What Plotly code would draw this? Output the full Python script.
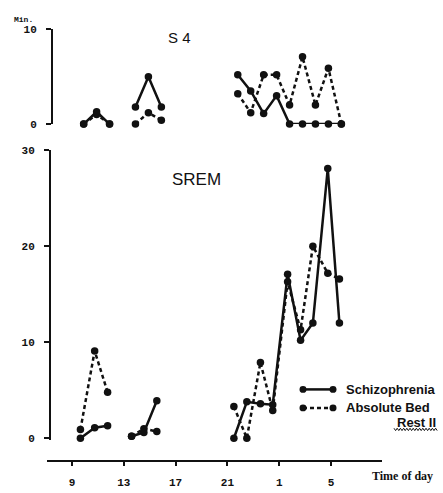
import plotly.graph_objects as go

W, H = 443, 493

# ---- data (hours of day; values after 24 continue as 25 = 1 h, 29 = 5 h) ----
top_hours = [9.9, 10.9, 11.9, None, 13.9, 14.9, 15.9, None,
             21.8, 22.8, 23.8, 24.8, 25.8, 26.8, 27.8, 28.8, 29.8]
top_schizo = [0, 1.3, 0, None, 1.8, 5.0, 1.8, None,
              5.2, 3.5, 1.1, 3.0, 0, 0, 0, 0, 0]
top_bedrest = [0, 1.0, 0, None, 0, 1.2, 0.4, None,
               3.2, 1.2, 5.2, 5.2, 2.0, 7.1, 2.0, 5.9, 0]

bottom_hours = [9.65, 10.75, 11.75, None, 13.6, 14.55, 15.55, None,
                21.5, 22.5, 23.55, 24.5, 25.65, 26.65, 27.6, 28.75, 29.65]
bottom_schizo = [0, 1.1, 1.3, None, 0.2, 0.6, 3.9, None,
                 0, 3.8, 3.6, 3.5, 17.1, 10.2, 12.0, 28.1, 12.0]
bottom_bedrest = [0.9, 9.1, 4.8, None, 0.2, 1.0, 0.7, None,
                  3.3, 0, 7.9, 2.9, 16.3, 11.3, 20.0, 17.2, 16.6]

x_tickvals = [9, 13, 17, 21, 25, 29]
x_ticktext = ["9", "13", "17", "21", "1", "5"]
top_ticks = [0, 10]
bottom_ticks = [0, 10, 20, 30]

series_names = ["Schizophrenia", "Absolute Bed Rest II"]


def px(x):
    return x / W


def py(y):
    return 1 - y / H


# x mapping: hour 9 -> 72 px, 12.95 px per hour
x0_px, x1_px = 47, 382
xr = [9 + (x0_px - 72) / 12.95, 9 + (x1_px - 72) / 12.95]

BLACK = "#111111"
mono = "Liberation Mono"
sans = "Liberation Sans"

fig = go.Figure()

common_marker = dict(size=7.5, color=BLACK)
solid = dict(color=BLACK, width=2.5)
dashed = dict(color=BLACK, width=2.5, dash="4px,3px")

fig.add_trace(go.Scatter(x=top_hours, y=top_bedrest, xaxis="x", yaxis="y2",
                         mode="lines+markers", line=dashed, marker=common_marker,
                         cliponaxis=False, connectgaps=False, name=series_names[1],
                         showlegend=False))
fig.add_trace(go.Scatter(x=top_hours, y=top_schizo, xaxis="x", yaxis="y2",
                         mode="lines+markers", line=solid, marker=common_marker,
                         cliponaxis=False, connectgaps=False, name=series_names[0],
                         showlegend=False))
fig.add_trace(go.Scatter(x=bottom_hours, y=bottom_bedrest, xaxis="x", yaxis="y",
                         mode="lines+markers", line=dashed, marker=common_marker,
                         cliponaxis=False, connectgaps=False, name=series_names[1],
                         showlegend=False))
fig.add_trace(go.Scatter(x=bottom_hours, y=bottom_schizo, xaxis="x", yaxis="y",
                         mode="lines+markers", line=solid, marker=common_marker,
                         cliponaxis=False, connectgaps=False, name=series_names[0],
                         showlegend=False))

tickfont = dict(family=mono, size=11, color=BLACK, weight="bold")

fig.update_layout(
    width=W, height=H,
    margin=dict(l=0, r=0, t=0, b=0),
    paper_bgcolor="white", plot_bgcolor="rgba(0,0,0,0)",
    xaxis=dict(domain=[px(x0_px), px(x1_px)], range=xr, anchor="free",
               position=py(467), showline=True, linewidth=2, linecolor=BLACK,
               ticks="outside", ticklen=4, tickwidth=1.5, tickcolor=BLACK,
               tickvals=x_tickvals, ticktext=x_ticktext, tickfont=tickfont,
               showgrid=False, zeroline=False, ticklabelstandoff=7),
    yaxis=dict(domain=[py(446), py(149)], range=[-0.2, 30], anchor="free",
               position=px(50), showline=True, linewidth=2, linecolor=BLACK,
               ticks="outside", ticklen=5, tickwidth=2, tickcolor=BLACK,
               tickvals=bottom_ticks, tickfont=tickfont, showgrid=False,
               zeroline=False, ticklabelstandoff=7),
    yaxis2=dict(domain=[py(122), py(25)], range=[0, 10], anchor="free",
                position=px(52), showline=True, linewidth=2, linecolor=BLACK,
                ticks="outside", ticklen=5, tickwidth=2, tickcolor=BLACK,
                tickvals=top_ticks, tickfont=tickfont, showgrid=False,
                zeroline=False, ticklabelstandoff=7),
)

ann = [
    dict(text="Min.", x=px(23), y=py(15), font=dict(family=mono, size=8, weight="bold")),
    dict(text="S 4", x=px(179), y=py(33), font=dict(family=sans, size=15)),
    dict(text="SREM", x=px(196), y=py(179), font=dict(family=sans, size=17)),
    dict(text="Time of day", x=px(402), y=py(483),
         font=dict(family="Liberation Serif", size=12, weight="bold")),
    dict(text=series_names[0], x=px(344), y=py(394), xanchor="left",
         font=dict(family=sans, size=13, weight="bold")),
    dict(text="Absolute Bed", x=px(344), y=py(413), xanchor="left",
         font=dict(family=sans, size=13, weight="bold")),
    dict(text="Rest II", x=px(438), y=py(428), xanchor="right",
         font=dict(family=sans, size=13, weight="bold")),
]
for a in ann:
    a.setdefault("xanchor", "center")
    a["font"].setdefault("color", BLACK)
    fig.add_annotation(xref="paper", yref="paper", yanchor="middle",
                       showarrow=False, **a)

# custom legend samples
for yy, dash in [(394, "solid"), (413, "4px,3px")]:
    fig.add_shape(type="line", xref="paper", yref="paper",
                  x0=px(303), x1=px(333), y0=py(yy), y1=py(yy),
                  line=dict(color=BLACK, width=2.5, dash=dash))
    for xx in (303, 333):
        fig.add_shape(type="circle", xref="paper", yref="paper",
                      x0=px(xx - 3.5), x1=px(xx + 3.5), y0=py(yy + 3.5), y1=py(yy - 3.5),
                      fillcolor=BLACK, line=dict(color=BLACK, width=0))

# wavy underline under "Rest II"
pts = []
xx = 394.0
k = 0
while xx <= 438:
    yy = 435 + (1.2 if k % 2 else -1.2)
    pts.append(f"{px(xx):.5f},{py(yy):.5f}")
    xx += 1.6
    k += 1
fig.add_shape(type="path", xref="paper", yref="paper",
              path="M" + " L".join(pts), line=dict(color=BLACK, width=1))

fig.write_html("out.html", config={"displayModeBar": False},
               post_script="document.body.style.margin='0';document.body.style.overflow='hidden';")
